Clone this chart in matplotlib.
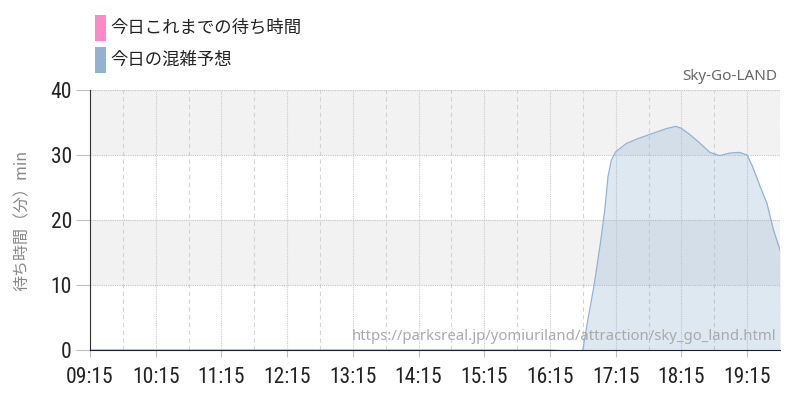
import matplotlib
matplotlib.use("Agg")
import matplotlib.pyplot as plt
import matplotlib.dates as mdates
from matplotlib.patches import Rectangle
import pandas as pd

# wait-time forecast (min)
times = ["09:15", "12:00", "15:00", "16:15", "16:25", "16:35", "16:42", "16:45",
         "16:49", "16:55", "17:01", "17:05", "17:08", "17:11", "17:15", "17:25",
         "17:35", "17:45", "18:02", "18:10", "18:15", "18:23", "18:32", "18:41",
         "18:50", "18:59", "19:08", "19:15", "19:20", "19:27", "19:33", "19:39", "19:45"]
forecast = [0, 0, 0, 0, -0.1, -0.4, -0.3, 0,
            4.1, 9.7, 16.4, 21.5, 26.7, 29.2, 30.5, 31.8,
            32.5, 33.1, 34.1, 34.4, 34.1, 33.1, 31.8, 30.4,
            29.9, 30.3, 30.4, 30.0, 28.2, 25.1, 22.6, 18.5, 15.4]

legend_labels = ["今日これまでの待ち時間", "今日の混雑予想"]
legend_colors = ["#ff88c8", "#8fb3d3"]
yticks = [0, 10, 20, 30, 40]
day = "2024-01-01 "

x = pd.to_datetime([day + t for t in times])

fig = plt.figure(figsize=(8, 4), dpi=100)
ax = fig.add_axes([0.1125, 0.125, 0.8625, 0.65])

x0 = pd.Timestamp(day + "09:15")
x1 = pd.Timestamp(day + "19:45")
ax.set_xlim(x0, x1)
ax.set_ylim(0, 40)

# alternating bands
for lo in (10, 30):
    ax.axhspan(lo, lo + 10, color="#f2f2f2", zorder=0, lw=0)

ax.fill_between(x, forecast, 0, color="#8fb3d3", alpha=0.3, lw=0, zorder=2)
ax.plot(x, forecast, color="#8fb3d3", lw=0.9, zorder=3)

# grid
ax.xaxis.set_major_locator(mdates.MinuteLocator(byminute=[15], interval=1))
ax.xaxis.set_minor_locator(mdates.MinuteLocator(byminute=[45]))
ax.xaxis.set_major_formatter(mdates.DateFormatter("%H:%M"))
ax.set_yticks(yticks)
ax.grid(axis="x", which="major", color="#cccccc", ls=(0, (1, 1)), lw=0.8, zorder=1)
ax.grid(axis="x", which="minor", color="#d4d4d4", ls=(0, (4, 3)), lw=0.8, zorder=1)
ax.grid(axis="y", which="major", color="#c4c4c4", ls=(0, (1, 1)), lw=0.8, zorder=1)
ax.set_axisbelow(True)

for s in ("top", "right"):
    ax.spines[s].set_visible(False)
ax.spines["left"].set_color("#333333")
ax.spines["bottom"].set_color("#1a2030")
ax.spines["left"].set_zorder(5)
ax.spines["bottom"].set_zorder(5)

num_family = ["Roboto Condensed", "DejaVu Sans"]
ax.tick_params(axis="x", which="major", length=5, color="#c0c0c0", pad=7)
ax.tick_params(axis="x", which="minor", length=0)
ax.tick_params(axis="y", length=10, color="#c0c0c0", pad=3)
for lab in ax.get_xticklabels() + ax.get_yticklabels():
    lab.set_fontfamily(num_family)
    lab.set_fontstretch("condensed")
    lab.set_fontsize(15.5)
    lab.set_color("#222222")

ax.set_ylabel("待ち時間（分）min", family=["Noto Sans CJK JP", "DejaVu Sans"],
              fontsize=11.5, color="#888888")
ax.yaxis.set_label_coords(-0.085, 0.5)

# legend drawn as patches + text
for i, (lab, col) in enumerate(zip(legend_labels, legend_colors)):
    ytop = 15 + i * 32
    fig.patches.append(Rectangle((95 / 800, 1 - (ytop + 26) / 400), 11 / 800, 26 / 400,
                                 transform=fig.transFigure, color=col, lw=0))
    fig.text(110 / 800, 1 - (ytop + 13) / 400, lab, family=["Noto Sans CJK JP", "DejaVu Sans"],
             fontsize=12.5, color="#222222", va="center", ha="left")

fig.text(777 / 800, 1 - 76 / 400, "Sky-Go-LAND", family=["Noto Sans", "DejaVu Sans"],
         fontsize=11, color="#666666", ha="right", va="center")
fig.text(776 / 800, 1 - 337 / 400, "https://parksreal.jp/yomiuriland/attraction/sky_go_land.html",
         family=["Noto Sans", "DejaVu Sans"], fontsize=10.75, color="#aaaaaa",
         ha="right", va="center", zorder=10)

fig.savefig("out.png", dpi=100)
